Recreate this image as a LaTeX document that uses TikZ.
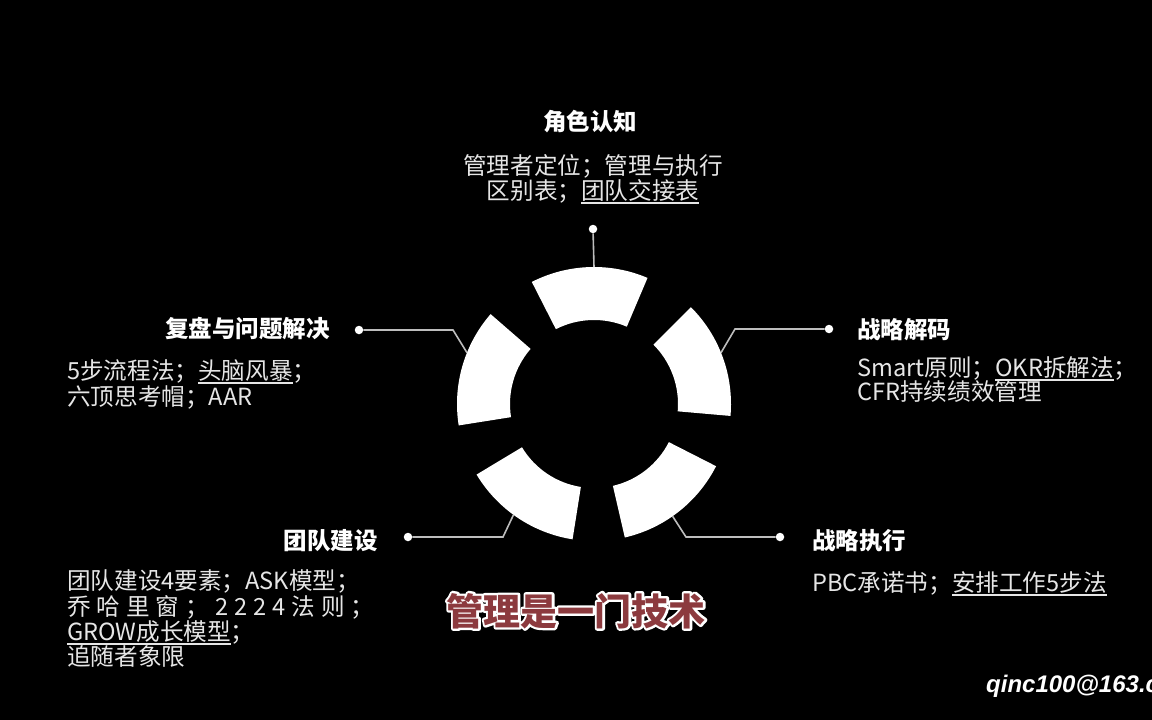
\documentclass[tikz,border=0pt]{standalone}
\usepackage{fontspec}
\setmainfont{Noto Sans CJK SC}
\newfontfamily\wmfont{Liberation Sans}
\definecolor{bodygray}{HTML}{E6E6E6}
\definecolor{linegray}{HTML}{BDBDBD}
\definecolor{subred}{HTML}{8C3A3E}
\newcommand\lsp{\hspace{6pt}}
\newsavebox\ulbox
\newcommand\ulx[1]{\sbox\ulbox{#1}\rlap{\color{bodygray}\rule[-4.5pt]{\wd\ulbox}{1.2pt}}\usebox\ulbox}
\newcommand\outlinetext[1]{\special{pdf:literal direct 2 Tr 4.6 w 1 j}#1\special{pdf:literal direct 0 Tr}}
\begin{document}
\begin{tikzpicture}[x=1pt,y=-1pt,
  title/.style={text=white,font=\fontsize{23.5}{27}\selectfont\bfseries,inner sep=0pt},
  body/.style={text=bodygray,font=\fontsize{23.6}{27}\selectfont,inner sep=0pt},
  conn/.style={draw=linegray,line width=1.6pt},
  dot/.style={circle,fill=white,minimum size=8.5pt,inner sep=0pt},
  seg/.style={fill=white},
  sub/.style={font=\fontsize{37}{40}\selectfont\bfseries,inner sep=0pt,anchor=base}]
\fill[black] (0,0) rectangle (1152,720);
\useasboundingbox (0,0) rectangle (1152,720);
\clip (0,0) rectangle (1152,720);

% ring
\begin{scope}[shift={(594,404)}]
  \foreach \k in {0,...,4} {
    \pgfmathsetmacro\a{-5+72*\k}
    \pgfmathsetmacro\b{\a+50}
    \fill[seg] (\a:137pt) arc[start angle=\a, end angle=\b, radius=137pt]
      -- (\b:84pt) arc[start angle=\b, end angle=\a, radius=84pt] -- cycle;
  }
  \coordinate (rtop) at (90:137pt);
  \coordinate (rleft) at (158:137pt);
  \coordinate (rright) at (22:137pt);
  \coordinate (rbl) at (-126:137pt);
  \coordinate (rbr) at (-55:137pt);
\end{scope}

% connectors
\node[dot] (dtop) at (593,229) {};
\draw[conn] (dtop) -- (rtop);

\node[dot] (dleft) at (359,330) {};
\coordinate (eleft) at (453,330);
\draw[conn] (dleft) -- (eleft) -- (rleft);

\node[dot] (dright) at (829,329) {};
\coordinate (eright) at (735,329);
\draw[conn] (rright) -- (eright) -- (dright);

\node[dot] (dbl) at (408,537) {};
\coordinate (ebl) at (503,537);
\draw[conn] (rbl) -- (ebl) -- (dbl);

\node[dot] (dbr) at (780,537) {};
\coordinate (ebr) at (686,537);
\draw[conn] (rbr) -- (ebr) -- (dbr);

% top block
\node[title,anchor=base] (ttop) at (590,130) {角色认知};
\node[body,anchor=base] (btop1) at (593,174) {管理者定位；管理与执行};
\node[body,anchor=base] (btop2) at (593,199) {区别表；\ulx{团队交接表}};

% left block
\node[title,anchor=base east] (tleft) at (330,337) {复盘与问题解决};
\node[body,anchor=base west] (bleft1) at (67,379) {5步流程法；\ulx{头脑风暴}；};
\node[body,anchor=base west] (bleft2) at (67,405) {六顶思考帽；AAR};

% right block
\node[title,anchor=base west] (tright) at (857,338) {战略解码};
\node[body,anchor=base west] (bright1) at (857,376) {Smart原则；\ulx{OKR拆解法}；};
\node[body,anchor=base west] (bright2) at (857,400) {CFR持续绩效管理};

% bottom-left block
\node[title,anchor=base east] (tbl) at (378,549) {团队建设};
\node[body,anchor=base west] (bbl1) at (67,589) {团队建设4要素；ASK模型；};
\node[body,anchor=base west] (bbl2) at (67,615) {乔\lsp 哈\lsp 里\lsp 窗\lsp ；\lsp 2\lsp 2\lsp 2\lsp 4\lsp 法\lsp 则\lsp ；};
\node[body,anchor=base west] (bbl3) at (67,640) {\ulx{GROW成长模型}；};
\node[body,anchor=base west] (bbl4) at (67,665) {追随者象限};

% bottom-right block
\node[title,anchor=base west] (tbr) at (812,549) {战略执行};
\node[body,anchor=base west] (bbr1) at (812,591) {PBC承诺书；\ulx{安排工作5步法}};

% subtitle with white outline
\node[sub,text=white] (subo) at (576,625) {\outlinetext{管理是一门技术}};
\node[sub,text=subred] (subtitle) at (576,625) {管理是一门技术};

% watermark
\node[anchor=base west,inner sep=0pt,text=white,font=\wmfont\fontsize{24}{28}\selectfont\bfseries\itshape] (wm) at (986,692) {qinc100@163.com};
\end{tikzpicture}
\end{document}
